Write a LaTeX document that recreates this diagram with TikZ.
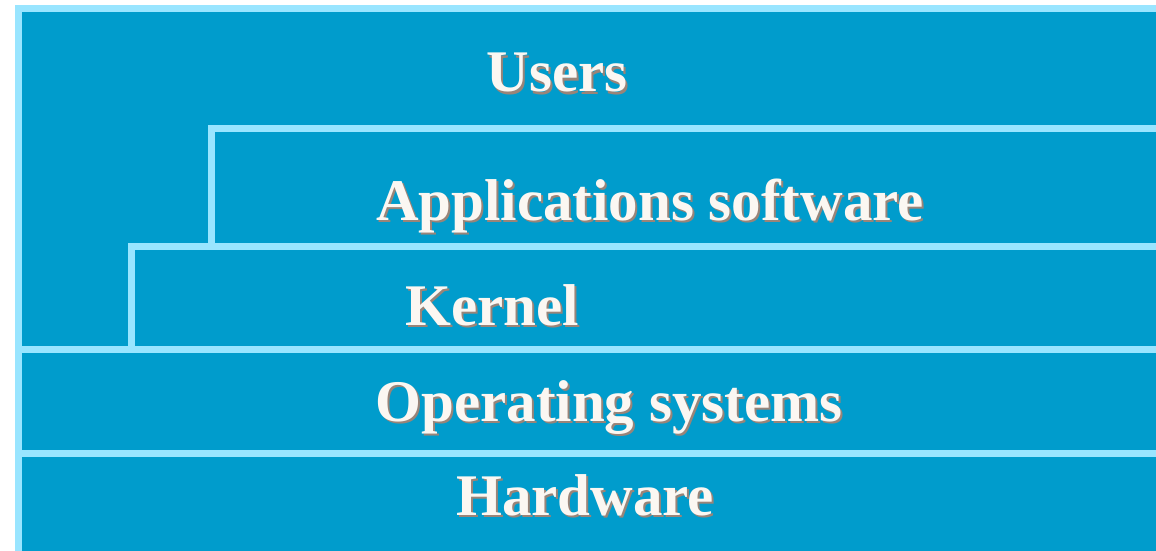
\documentclass[tikz,border=0pt]{standalone}
\usepackage{fontspec}
\setmainfont{Liberation Serif}
\definecolor{fillblue}{HTML}{009CCC}
\definecolor{edgeblue}{HTML}{99E5FF}
\definecolor{txtcol}{HTML}{FBF7F2}
\definecolor{shadecol}{HTML}{9A8478}
\tikzset{
  layeredge/.style={draw=edgeblue, line width=7pt, line join=miter},
  lbl/.style={anchor=base, inner sep=0pt, text=txtcol, font=\fontsize{59}{60}\selectfont\bfseries},
  lblshadow/.style={anchor=base, inner sep=0pt, text=shadecol, font=\fontsize{59}{60}\selectfont\bfseries},
}
\begin{document}
\begin{tikzpicture}[x=1pt,y=-1pt]
\useasboundingbox (0,0) rectangle (1156,551);
\clip (0,0) rectangle (1156,551);
\fill[white] (0,0) rectangle (1156,551);
% outer box
\draw[layeredge, fill=fillblue] (18,8.5) rectangle (1175,575);
% applications box
\coordinate (appR) at (1175,128);
\coordinate (appC) at (211,128);
\coordinate (appB) at (211,246.5);
\draw[layeredge] (appR) -- (appC) -- (appB);
% kernel box
\coordinate (kerR) at (1175,246.5);
\coordinate (kerC) at (131,246.5);
\coordinate (kerB) at (131,349);
\draw[layeredge] (kerR) -- (kerC) -- (kerB);
% operating systems line
\coordinate (osL) at (18,349);
\coordinate (osR) at (1175,349);
\draw[layeredge] (osL) -- (osR);
% hardware line
\coordinate (hwL) at (18,453);
\coordinate (hwR) at (1175,453);
\draw[layeredge] (hwL) -- (hwR);
% labels (shadow then text)
\node[lblshadow] (usersS) at (559,94) {Users};
\node[lbl] (users) at (557,92) {Users};
\node[lblshadow] (appsS) at (652,222) {Applications software};
\node[lbl] (apps) at (650,220) {Applications software};
\node[lblshadow] (kernelS) at (494,327) {Kernel};
\node[lbl] (kernel) at (492,325) {Kernel};
\node[lblshadow] (osS) at (611,423) {Operating systems};
\node[lbl] (os) at (609,421) {Operating systems};
\node[lblshadow] (hwS) at (587,517) {Hardware};
\node[lbl] (hw) at (585,515) {Hardware};
\end{tikzpicture}
\end{document}
